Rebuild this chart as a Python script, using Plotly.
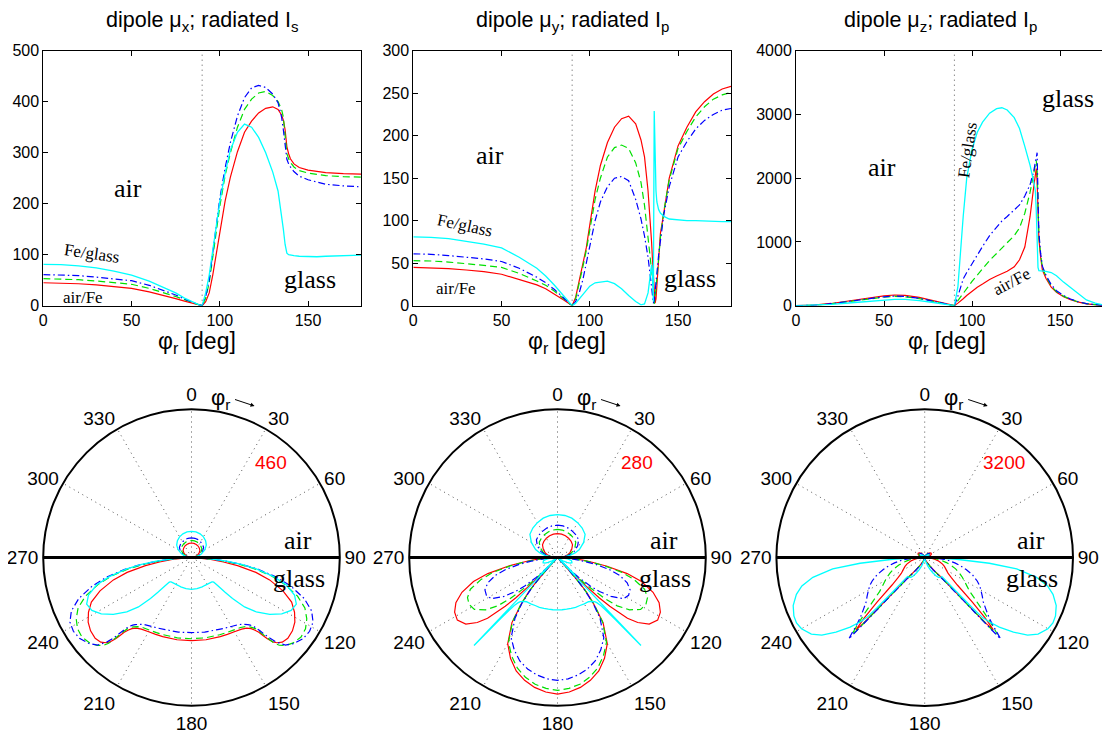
import plotly.graph_objects as go

# ---------------- data ----------------
# panel 1: dipole mu_x, radiated I_s
phi1 = [0, 10, 20, 30, 40, 50, 60, 70, 75, 80, 85, 88, 90, 92, 94, 96, 98, 100, 103, 106, 110, 114, 118, 122,
        126, 130, 133, 135, 136, 137, 137.5, 138, 139, 140, 142, 145, 150, 155, 160, 170, 180]
red1 = [45, 44.5, 43, 41, 38, 34, 27, 19, 14, 9, 4, 1.5, 0, 8, 25, 60, 100, 145, 205, 252, 302, 340, 362, 378,
        387, 390, 385, 374, 364, 345, 328, 312, 298, 288, 278, 271, 266, 263, 261, 259, 258]
green1 = [53, 52.5, 51, 48.5, 45.5, 42, 34, 24, 18, 12, 5, 2, 0, 15, 45, 95, 145, 195, 255, 300, 350, 385, 405, 417,
          420, 412, 400, 385, 370, 330, 310, 298, 288, 281, 272, 265, 260, 257, 255, 253, 252]
blue1 = [61, 60.5, 59, 56, 53, 49, 40, 28, 21, 13, 5.5, 2, 0, 18, 50, 105, 160, 210, 270, 320, 372, 408, 427, 432,
         428, 415, 398, 370, 345, 310, 296, 287, 278, 272, 263, 254, 247, 242, 238, 235, 233]
cyan1 = [81, 80.5, 78, 74, 68, 60, 48, 33, 25, 15, 6, 2, 0, 25, 60, 110, 160, 204, 260, 305, 340, 356, 350, 330,
         300, 262, 225, 180, 150, 120, 108, 103, 100, 99, 98, 97, 96, 96, 97, 98, 99]

# panel 2: dipole mu_y, radiated I_p
phi2 = [0, 10, 20, 30, 40, 50, 60, 70, 75, 80, 85, 88, 90, 92, 94, 96, 98, 100, 103, 106, 110, 114, 118, 122, 126,
        129, 131, 133, 134, 135, 135.5, 136, 136.5, 137, 137.5, 138, 139, 140, 142, 145, 150, 155, 160, 165, 170,
        175, 180]
red2 = [45, 44.7, 43.6, 42, 40, 37, 31, 24.5, 20, 14, 7, 3, 0, 10, 30, 50, 68, 95, 135, 165, 192, 210, 220, 223, 214,
        195, 175, 135, 110, 75, 55, 35, 15, 3, 8, 25, 60, 85, 110, 150, 188, 210, 228, 240, 249, 255, 258]
green2 = [53, 52.6, 51.3, 49.5, 47.5, 45, 38, 29, 24, 17, 8.5, 3.5, 0, 8, 25, 45, 65, 90, 125, 150, 175, 186, 189,
          185, 168, 145, 118, 80, 62, 42, 32, 15, 2, 10, 20, 32, 55, 80, 112, 148, 185, 205, 222, 234, 243, 248, 251]
blue2 = [61, 60.5, 59, 57, 55, 52, 44, 33.5, 27, 19, 9.5, 4, 0, 5, 15, 30, 50, 72, 100, 122, 140, 150, 152, 147, 125,
         102, 82, 57, 42, 22, 12, 3, 6, 15, 25, 38, 60, 78, 108, 140, 175, 193, 208, 218, 225, 230, 232]
cyan2 = [81, 80.5, 79, 76, 72.5, 68, 57, 44, 35, 24, 12, 5, 0, 3, 8, 14, 19, 23, 27, 28, 29, 26, 20, 12, 5,
         1, 2, 15, 30, 48, 35, 5, 229, 160, 135, 122, 113, 109, 105, 102, 101, 100, 100, 99.5, 99, 99, 99]

# panel 3: dipole mu_z, radiated I_p
phi3 = [0, 10, 20, 30, 40, 50, 56, 62, 70, 78, 85, 90, 92, 93, 95, 97, 100, 103, 106, 110, 114, 117, 120, 124, 127,
        130, 133, 135, 136, 136.5, 137, 137.5, 138, 139, 140, 142, 145, 148, 152, 156, 160, 165, 170, 175, 180]
red3 = [0, 8, 35, 75, 120, 155, 168, 163, 130, 80, 30, 0, 40, 60, 110, 160, 230, 290, 340, 410, 465, 500, 540, 610,
        720, 920, 1400, 1850, 2050, 2150, 1950, 1450, 1050, 760, 560, 430, 290, 210, 140, 95, 60, 30, 12, 3, 0]
green3 = [0, 7, 30, 65, 105, 135, 145, 140, 112, 68, 25, 0, 80, 120, 200, 280, 380, 480, 580, 710, 820, 900, 980,
          1100, 1220, 1450, 1780, 2050, 2200, 2280, 2150, 1550, 1100, 800, 600, 460, 310, 220, 150, 100, 62, 32, 13,
          3, 0]
blue3 = [0, 7, 31, 67, 108, 140, 150, 145, 116, 70, 26, 0, 150, 250, 420, 520, 660, 800, 930, 1100, 1240, 1330, 1400,
         1500, 1580, 1720, 1900, 2100, 2250, 2330, 2400, 1700, 1150, 820, 620, 480, 330, 235, 160, 105, 65, 33, 13,
         3, 0]
cyan3 = [0, 5, 20, 42, 68, 90, 100, 98, 80, 50, 18, 0, 300, 690, 1400, 2000, 2450, 2720, 2880, 3020, 3090, 3105,
         3070, 2950, 2780, 2500, 2200, 1950, 1800, 1500, 1000, 600, 550, 548, 546, 540, 520, 470, 370, 280, 190, 90,
         40, 10, 0]

titles = ["dipole μ<sub>x</sub>; radiated I<sub>s</sub>",
          "dipole μ<sub>y</sub>; radiated I<sub>p</sub>",
          "dipole μ<sub>z</sub>; radiated I<sub>p</sub>"]
y_max = [500, 300, 4000]
y_dtick = [100, 50, 1000]
x_ticks = [0, 50, 100, 150]
polar_max = [460, 280, 3200]
polar_ticks = list(range(0, 360, 30))

# ---------------- geometry ----------------
# the page body has an 8px margin; the figure is sized so that it fills the window exactly
OFF = 8
W, H = 1110 - OFF, 734 - OFF

SANS = "Liberation Sans, Arial, sans-serif"
SERIF = "Liberation Serif, Times New Roman, serif"
series_style = [
    ("red", dict(color="#ff0000", width=1.2, dash="solid")),
    ("green", dict(color="#00e000", width=1.2, dash="7px,4px")),
    ("blue", dict(color="#0000ff", width=1.2, dash="7px,3px,1.5px,3px")),
    ("cyan", dict(color="#00ffff", width=1.3, dash="solid")),
]
panels = [
    (phi1, [red1, green1, blue1, cyan1]),
    (phi2, [red2, green2, blue2, cyan2]),
    (phi3, [red3, green3, blue3, cyan3]),
]


def fx(p):
    return (p - OFF) / W


def fy(p):
    return 1 - (p - OFF) / H


fig = go.Figure()

cart_px = [(43.3, 361.0), (413.3, 731.0), (796.0, 1110.0)]
cart_top, cart_bot = 50.7, 305.7
x_range_end = [180, 180, (1110 - 796) / 1.76]

for k, (phi, series) in enumerate(panels):
    ax = "" if k == 0 else str(k + 1)
    for (name, st), vals in zip(series_style, series):
        fig.add_trace(go.Scatter(x=phi, y=vals, mode="lines", line=st, name=name,
                                 xaxis="x" + ax, yaxis="y" + ax, showlegend=False))
    # mirrored polar trace
    th = list(phi) + [360 - p for p in phi[::-1][1:]]
    for (name, st), vals in zip(series_style, series):
        rr = list(vals) + list(vals[::-1][1:])
        fig.add_trace(go.Scatterpolar(r=rr, theta=th, mode="lines", line=st, name=name,
                                      subplot="polar" + ax, showlegend=False))
    # horizontal interface line in polar
    fig.add_trace(go.Scatterpolar(r=[polar_max[k], polar_max[k]], theta=[270, 90], mode="lines",
                                  line=dict(color="black", width=3), subplot="polar" + ax, showlegend=False))
    # dotted line at 90 deg in cartesian
    fig.add_trace(go.Scatter(x=[90, 90], y=[0, y_max[k]], mode="lines",
                             line=dict(color="#555", width=1, dash="1px,4px"),
                             xaxis="x" + ax, yaxis="y" + ax, showlegend=False))

layout = dict(
    width=W, height=H, margin=dict(l=0, r=0, t=0, b=0, pad=0, autoexpand=False),
    paper_bgcolor="white", plot_bgcolor="white",
    font=dict(family=SANS, size=16, color="black"),
    showlegend=False,
)

for k in range(3):
    ax = "" if k == 0 else str(k + 1)
    x0, x1 = cart_px[k]
    layout["xaxis" + ax] = dict(
        domain=[fx(x0), min(1.0, fx(x1))], range=[0, x_range_end[k]], anchor="y" + ax,
        tickvals=x_ticks, ticks="inside", ticklen=5, tickcolor="black",
        showline=True, linecolor="black", linewidth=1, mirror="ticks",
        showgrid=False, zeroline=False, tickfont=dict(size=16), automargin=False,
    )
    layout["yaxis" + ax] = dict(
        domain=[fy(cart_bot), fy(cart_top)], range=[0, y_max[k]], anchor="x" + ax,
        dtick=y_dtick[k], ticks="inside", ticklen=5, tickcolor="black",
        showline=True, linecolor="black", linewidth=1, mirror="ticks" if k < 2 else False,
        showgrid=False, zeroline=False, tickfont=dict(size=16), automargin=False,
    )

polar_centers = [(191.5, 557.5), (557.5, 557.5), (924.7, 557.6)]
R = 148.3
for k in range(3):
    ax = "" if k == 0 else str(k + 1)
    cx, cy = polar_centers[k]
    layout["polar" + ax] = dict(
        domain=dict(x=[fx(cx - R), fx(cx + R)], y=[fy(cy + R), fy(cy - R)]),
        bgcolor="white",
        radialaxis=dict(range=[0, polar_max[k]], showgrid=False, showticklabels=False,
                        showline=False, ticks=""),
        angularaxis=dict(rotation=90, direction="clockwise", tickvals=polar_ticks,
                         ticktext=[str(t) for t in polar_ticks],
                         showline=True, linecolor="black", linewidth=2,
                         showgrid=True, gridcolor="#555", gridwidth=1, griddash="1px,4px",
                         ticks="", tickfont=dict(size=19, family=SANS)),
    )

fig.update_layout(**layout)

ann = []


def add_text(text, x, y, size, family=SANS, color="black", angle=0):
    ann.append(dict(text=text, x=fx(x), y=fy(y), xref="paper", yref="paper", showarrow=False,
                    xanchor="center", yanchor="middle", textangle=angle,
                    font=dict(size=size, family=family, color=color)))


title_x = [202, 572, 940]
for k in range(3):
    add_text(titles[k], title_x[k], 22, 21.5)
    add_text("φ<sub>r</sub> [deg]", [197, 567, 947][k], 342, 23)

# labels in cartesian panels
add_text("air", 128, 188, 26, SERIF)
add_text("glass", 310, 279, 26, SERIF)
add_text("Fe/glass", 92, 253, 17, SERIF, angle=8)
add_text("air/Fe", 83, 297, 17, SERIF)

add_text("air", 490, 155, 26, SERIF)
add_text("glass", 690, 278, 26, SERIF)
add_text("Fe/glass", 465, 225, 17, SERIF, angle=12)
add_text("air/Fe", 456, 288, 17, SERIF)

add_text("air", 882, 167, 26, SERIF)
add_text("glass", 1068, 98, 26, SERIF)
add_text("Fe/glass", 968, 150, 17, SERIF, angle=-82)
add_text("air/Fe", 1012, 282, 17, SERIF, angle=-28)

# labels in polar panels
for k, (cx, cy) in enumerate(polar_centers):
    add_text("air", cx + 106, 540, 26, SERIF)
    add_text("glass", cx + 107, 578, 26, SERIF)
    add_text(str(polar_max[k]), cx + 79, 462, 19, SANS, color="#ff0000")
    add_text("φ<sub>r</sub>", cx + 29, 399, 22, SANS)
    ann.append(dict(x=fx(cx + 63), y=fy(406), ax=-21, ay=-7, xref="paper", yref="paper",
                    axref="pixel", ayref="pixel", text="", showarrow=True,
                    arrowhead=2, arrowsize=0.8, arrowwidth=1, arrowcolor="black"))

fig.update_layout(annotations=ann)
fig.write_html("out.html")
